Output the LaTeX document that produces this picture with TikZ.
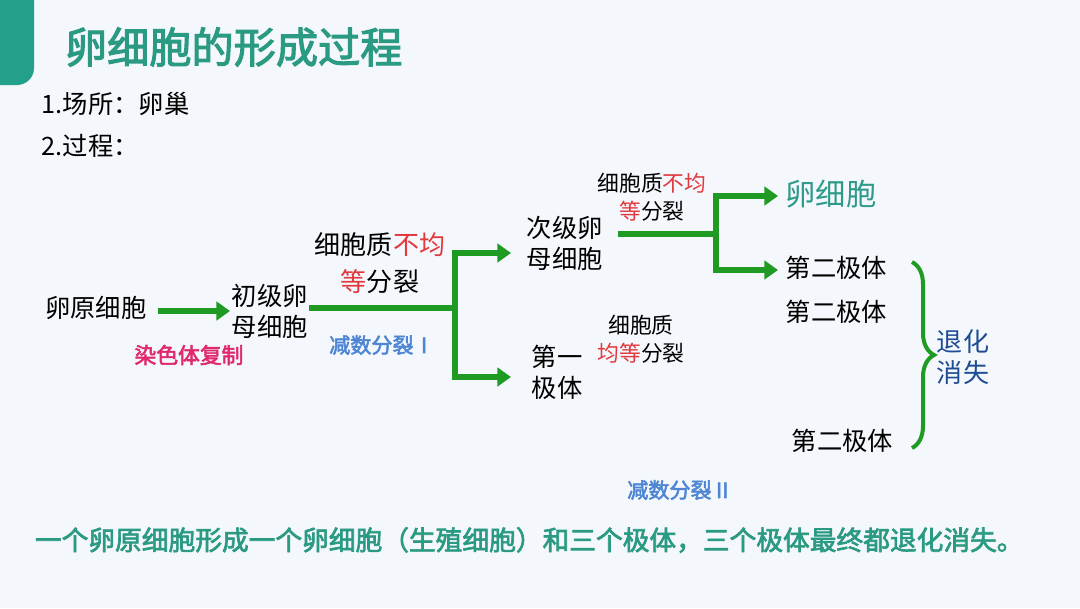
\documentclass[tikz,border=0pt]{standalone}
\usepackage{fontspec}
\usepackage{tikz}
\usetikzlibrary{arrows.meta, decorations.pathreplacing}
\newfontfamily\cjk[AutoFakeBold=2.5]{Noto Sans CJK SC}
\definecolor{pagebg}{HTML}{F4F7FB}
\definecolor{tab}{HTML}{22A08A}
\definecolor{headteal}{HTML}{2A9A82}
\definecolor{flowgreen}{HTML}{1F9A23}
\definecolor{warnred}{HTML}{E0393E}
\definecolor{copypink}{HTML}{E0286E}
\definecolor{meiblue}{HTML}{4F86D4}
\definecolor{fadeblue}{HTML}{1E4C94}
\definecolor{eggteal}{HTML}{2E9A8A}

\begin{document}
\begin{tikzpicture}[
  x=0.025cm, y=-0.025cm,
  cell/.style={inner sep=1pt, align=center, font=\cjk\fontsize{18}{22}\selectfont},
  note/.style={inner sep=1pt, align=center, font=\cjk\fontsize{15.5}{20}\selectfont},
  stage/.style={inner sep=1pt, font=\cjk\bfseries\fontsize{15}{18}\selectfont, text=meiblue},
  flow/.style={line width=0.13cm, flowgreen},
  flowarr/.style={flow, -{Triangle[length=0.34cm, width=0.46cm]}},
]

\useasboundingbox (0,0) rectangle (1080,608);
\fill[pagebg] (0,0) rectangle (1080,608);
\fill[tab, rounded corners=12] (-20,-20) rectangle (34,85);

\node[font=\cjk\bfseries\fontsize{30}{34}\selectfont, text=headteal, anchor=west] (title) at (60,47) {卵细胞的形成过程};
\node[cell, anchor=west] (place) at (40,104) {1.场所：卵巢};
\node[cell, anchor=west] (proc) at (40,146) {2.过程：};

% cells
\node[cell, anchor=east] (oogonium) at (148,308) {卵原细胞};
\node[cell, anchor=west] (primary) at (230,311) {初级卵\\母细胞};
\node[cell, anchor=west] (secondary) at (525,243) {次级卵\\母细胞};
\node[cell, anchor=west] (polar1) at (530,372) {第一\\极体};
\node[cell, anchor=west, text=eggteal, font=\cjk\fontsize{21.5}{24}\selectfont] (egg) at (784,194) {卵细胞};
\node[cell, anchor=west] (polar2a) at (784,268) {第二极体};
\node[cell, anchor=west] (polar2b) at (784,312) {第二极体};
\node[cell, anchor=west] (polar2c) at (790,441) {第二极体};

% labels
\node[note, font=\cjk\fontsize{18.5}{26}\selectfont] (split1) at (380,263) {细胞质\textcolor{warnred}{不均}\\\textcolor{warnred}{等}分裂};
\node[note] (split2) at (652,197) {细胞质\textcolor{warnred}{不均}\\\textcolor{warnred}{等}分裂};
\node[note] (split3) at (641,339) {细胞质\\\textcolor{warnred}{均等}分裂};
\node[stage, text=copypink, font=\cjk\bfseries\fontsize{15.5}{18}\selectfont] (copy) at (189,355) {染色体复制};
\node[stage] (mei1) at (382,345) {减数分裂Ⅰ};
\node[stage] (mei2) at (680,490) {减数分裂Ⅱ};
\node[cell, text=fadeblue, font=\cjk\fontsize{18.5}{22}\selectfont] (fade) at (963,357) {退化\\消失};

% arrows
\coordinate (j1) at (455,308);
\coordinate (j2) at (716,234);
\draw[flowarr] (oogonium.east) ++(10,3) -- (primary.west);
\draw[flow] (primary.east |- j1) -- (j1);
\draw[flowarr] (j1) |- (511,253) coordinate (a1);
\draw[flowarr] (j1) |- (511,377) coordinate (a2);
\draw[flow] (secondary.east |- j2) ++(14,0) -- (j2);
\draw[flowarr] (j2) |- (778,196) coordinate (a3);
\draw[flowarr] (j2) |- (778,270) coordinate (a4);

% brace
\draw[flowgreen, line width=0.1cm, decorate, decoration={brace, amplitude=0.55cm}]
  (polar2a.east -| 912,0) ++(0,-6) coordinate (b1) -- (912,448) coordinate (b2);

\node[font=\cjk\bfseries\fontsize{19}{22}\selectfont, text=headteal, anchor=west] (summary) at (30,540)
  {一个卵原细胞形成一个卵细胞（生殖细胞）和三个极体，三个极体最终都退化消失。};

\end{tikzpicture}
\end{document}
